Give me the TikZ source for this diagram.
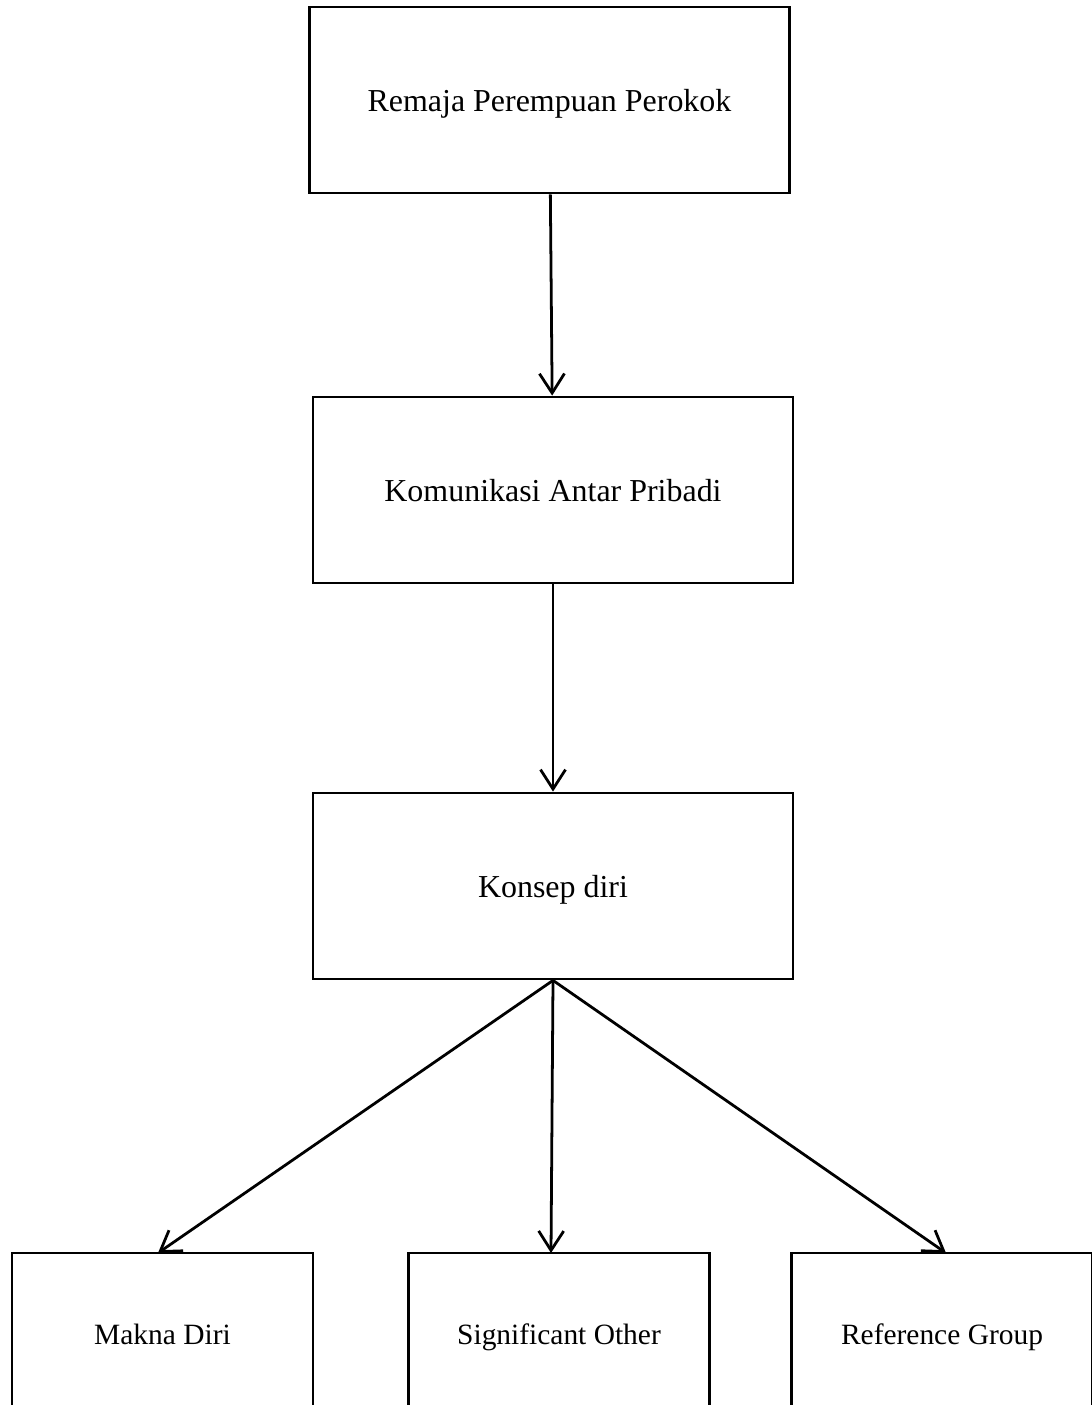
\documentclass[tikz,border=0pt]{standalone}
\usepackage{fontspec}
\setmainfont{Liberation Serif}
\usetikzlibrary{arrows.meta}
\tikzset{
  kotak/.style={draw, line width=1pt, minimum width=480*0.36pt, minimum height=186*0.36pt, inner sep=0pt, text depth=0pt, font=\fontsize{11.5}{14}\selectfont},
  kotakbawah/.style={draw, line width=1pt, minimum width=301*0.36pt, minimum height=162*0.36pt, inner sep=0pt, text depth=0pt, font=\fontsize{10.6}{13}\selectfont},
  panah/.style={-{Straight Barb[length=7pt,width=9pt,line width=1pt]}, line width=1pt}
}
\begin{document}
\begin{tikzpicture}[x=0.36pt, y=-0.36pt]
      \useasboundingbox (0,0) rectangle (1092,1405);
      \clip (0,0) rectangle (1092,1405);
      \draw
        (549.5,100) node[kotak] (0){Remaja Perempuan Perokok}
        (553,490) node[kotak] (1){Komunikasi Antar Pribadi}
        (553,886) node[kotak] (2){Konsep diri}
        (162.5,1334) node[kotakbawah] (3){Makna Diri}
        (559,1334) node[kotakbawah] (4){Significant Other}
        (942,1334) node[kotakbawah] (5){Reference Group};
      \coordinate (t3) at (158,1253);
      \coordinate (t4) at (551,1253);
      \coordinate (t5) at (946,1253);
      \begin{scope}[panah]
        \draw (0) to (1);
        \draw (1) to (2);
        \draw (2.south) to (t3);
        \draw (2.south) to (t4);
        \draw (2.south) to (t5);
      \end{scope}
    \end{tikzpicture}
\end{document}
